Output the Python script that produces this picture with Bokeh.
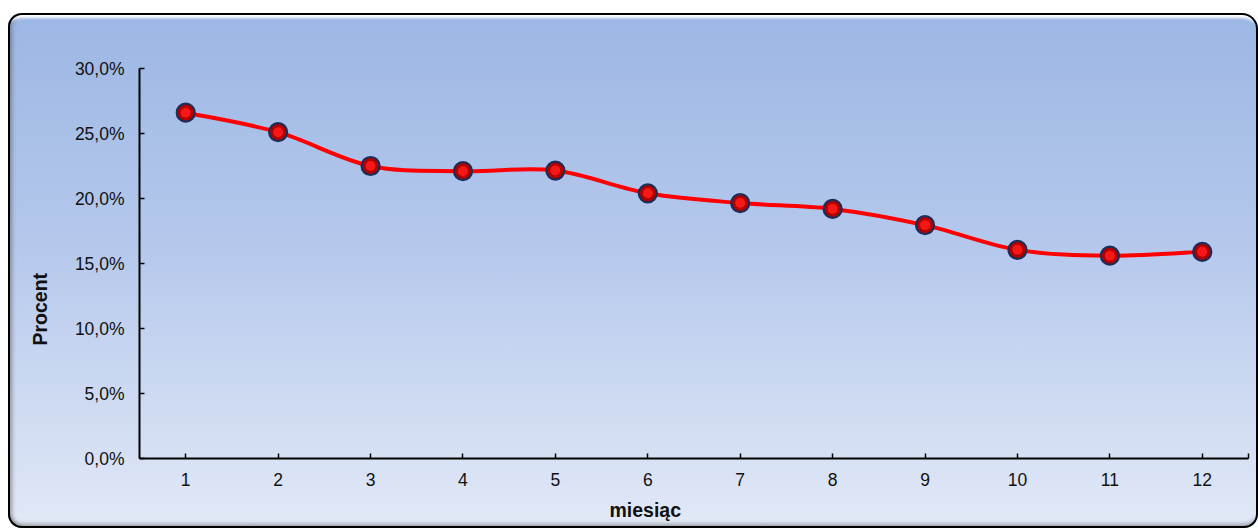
from bokeh.plotting import figure
from bokeh.models import FixedTicker, Range1d, Title
from bokeh.embed import file_html
from bokeh.resources import INLINE

# ---- data ----
months = [1, 2, 3, 4, 5, 6, 7, 8, 9, 10, 11, 12]
percent = [26.6, 25.1, 22.5, 22.1, 22.15, 20.4, 19.65, 19.2, 17.95, 16.05, 15.6, 15.9]
y_ticks = [0, 5, 10, 15, 20, 25, 30]
y_tick_labels = ["0,0%", "5,0%", "10,0%", "15,0%", "20,0%", "25,0%", "30,0%"]
x_title = "miesiąc"
y_title = "Procent"

FONT = "Liberation Sans"

p = figure(width=1250, height=515, output_backend="svg", toolbar_location=None,
           x_range=Range1d(0.5, 12.5), y_range=Range1d(0, 30),
           min_border_left=131, min_border_right=10, min_border_top=55, min_border_bottom=70)

p.styles = {
    "margin": "13px 0px 0px 8px",
    "border-radius": "14px 16px 14px 14px",
    "background": "linear-gradient(to bottom, #9cb7e4 0%, #b5c8ec 45%, #e2e9f7 100%)",
    "box-shadow": ("inset 0 0 0 2px #000000, "
                   "inset 0 11px 3px -6px rgba(255,255,255,1), "
                   "inset 6px 0 4px -2px rgba(80,80,80,0.5), "
                   "inset 0 -6px 4px -2px rgba(80,80,80,0.5)"),
}
p.border_fill_color = None
p.background_fill_color = None
p.outline_line_color = None
p.xgrid.visible = False
p.ygrid.visible = False

# axes
p.yaxis.ticker = FixedTicker(ticks=y_ticks)
p.yaxis.major_label_overrides = {t: l for t, l in zip(y_ticks, y_tick_labels)}
p.xaxis.ticker = FixedTicker(ticks=months + [12.5])
p.xaxis.major_label_overrides = {12.5: ""}
for ax in (p.xaxis[0], p.yaxis[0]):
    ax.axis_line_color = "black"
    ax.axis_line_width = 2
    ax.major_tick_line_color = "black"
    ax.major_tick_line_width = 1.5
    ax.major_tick_in = 5
    ax.major_tick_out = 0
    ax.minor_tick_line_color = None
    ax.major_label_text_font = FONT
    ax.major_label_text_font_size = "17.5px"
    ax.major_label_text_color = "#111111"
p.yaxis.major_label_standoff = 15
p.xaxis.major_label_standoff = 14

# smoothed line (Excel-style smoothing through the data points)
n = len(months)
x0s, y0s, x1s, y1s, cx0s, cy0s, cx1s, cy1s = [], [], [], [], [], [], [], []
for i in range(n - 1):
    pr = max(i - 1, 0)
    nx = min(i + 2, n - 1)
    x0s.append(months[i]); y0s.append(percent[i])
    x1s.append(months[i + 1]); y1s.append(percent[i + 1])
    cx0s.append(months[i] + (months[i + 1] - months[pr]) / 6)
    cy0s.append(percent[i] + (percent[i + 1] - percent[pr]) / 6)
    cx1s.append(months[i + 1] - (months[nx] - months[i]) / 6)
    cy1s.append(percent[i + 1] - (percent[nx] - percent[i]) / 6)
p.bezier(x0=x0s, y0=y0s, x1=x1s, y1=y1s, cx0=cx0s, cy0=cy0s, cx1=cx1s, cy1=cy1s,
         line_color="#ff0000", line_width=4)

# markers
p.scatter(months, percent, size=18, fill_color="#b00000", line_color="#1b2d58", line_width=2.2)
p.scatter(months, percent, size=10, fill_color="#ff1a1a", line_color=None, fill_alpha=0.9)

# axis titles
p.add_layout(Title(text=y_title, align="left", offset=113, standoff=37, vertical_align="top",
                   text_font=FONT, text_font_style="bold", text_font_size="19.5px",
                   text_color="#111111"), "left")
p.add_layout(Title(text=x_title, align="left", offset=470, standoff=16,
                   text_font=FONT, text_font_style="bold", text_font_size="19.5px",
                   text_color="#111111"), "below")

open("out.html", "w").write(file_html(p, INLINE))
